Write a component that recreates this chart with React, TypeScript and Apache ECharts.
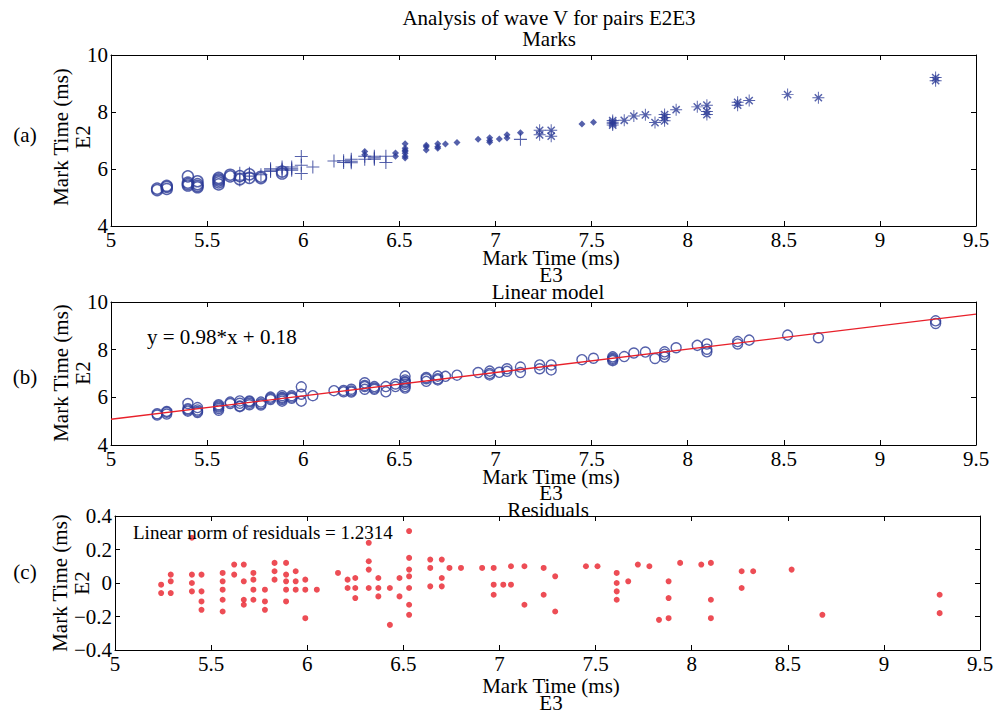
import React, { useEffect, useRef } from "react";
import * as echarts from "echarts";

const FONT = "Liberation Serif";
const FS = 21;

// Mark times of wave V, electrode E3 (x) — one entry per mark
const e3Values = [
  5.24, 5.24,
  5.29, 5.29, 5.29,
  5.40, 5.40, 5.40, 5.40,
  5.45, 5.45, 5.45, 5.45,
  5.56, 5.56, 5.56, 5.56, 5.56,
  5.62, 5.62,
  5.67, 5.67, 5.67, 5.67,
  5.72, 5.72, 5.72, 5.72,
  5.78, 5.78, 5.78,
  5.83, 5.83, 5.83,
  5.89, 5.89, 5.89, 5.89, 5.89,
  5.94, 5.94, 5.94,
  5.99, 5.99, 5.99,
  6.05,
  6.16,
  6.21, 6.21,
  6.25, 6.25, 6.25,
  6.32, 6.32, 6.32, 6.32,
  6.37, 6.37, 6.37,
  6.43, 6.43,
  6.48, 6.48,
  6.53, 6.53, 6.53, 6.53, 6.53, 6.53, 6.53,
  6.64, 6.64, 6.64,
  6.70, 6.70, 6.70,
  6.74,
  6.80,
  6.91,
  6.97, 6.97, 6.97,
  7.02,
  7.06, 7.06,
  7.13, 7.13,
  7.23, 7.23,
  7.29, 7.29,
  7.45,
  7.51,
  7.61, 7.61, 7.61, 7.61,
  7.67,
  7.72,
  7.78,
  7.83,
  7.88, 7.88, 7.88,
  7.94,
  8.05,
  8.10, 8.10, 8.10,
  8.26, 8.26,
  8.32,
  8.52,
  8.68,
  9.29, 9.29,
];

// Mark times of wave V, electrode E2 (y)
const e2Values = [
  5.31, 5.26,
  5.41, 5.37, 5.30,
  5.74, 5.52, 5.47, 5.42,
  5.57, 5.47, 5.41, 5.36,
  5.69, 5.64, 5.59, 5.53, 5.46,
  5.80, 5.74,
  5.85, 5.75, 5.64, 5.61,
  5.85, 5.81, 5.75, 5.69,
  5.80, 5.73, 5.68,
  6.01, 5.96, 5.91,
  6.07, 6.00, 5.96, 5.91, 5.84,
  6.07, 6.01, 5.96,
  6.44, 6.13, 5.84,
  6.07,
  6.28,
  6.29, 6.23,
  6.34, 6.27, 6.22,
  6.61, 6.50, 6.45, 6.34,
  6.45, 6.39, 6.34,
  6.45, 6.23,
  6.56, 6.45,
  6.89, 6.73, 6.66, 6.62, 6.55, 6.45, 6.39,
  6.83, 6.78, 6.67,
  6.89, 6.78, 6.73,
  6.88,
  6.93,
  7.04,
  7.10, 7.00, 6.94,
  7.05,
  7.20, 7.09,
  7.27, 7.04,
  7.36, 7.20,
  7.36, 7.15,
  7.58,
  7.64,
  7.70, 7.64, 7.59, 7.54,
  7.71,
  7.86,
  7.90,
  7.63,
  7.91, 7.81, 7.69,
  8.08,
  8.18,
  8.24, 8.02, 7.91,
  8.34, 8.24,
  8.40,
  8.61,
  8.50,
  9.21, 9.10,
];

// Residuals of the linear model
const residuals = [
  -0.01, -0.06,
  0.05, 0.01, -0.06,
  0.27, 0.05, 0.0, -0.05,
  0.05, -0.05, -0.11, -0.16,
  0.06, 0.01, -0.04, -0.10, -0.17,
  0.11, 0.05,
  0.11, 0.01, -0.10, -0.13,
  0.06, 0.02, -0.04, -0.10,
  -0.04, -0.11, -0.16,
  0.12, 0.07, 0.02,
  0.12, 0.05, 0.01, -0.04, -0.11,
  0.07, 0.01, -0.04,
  0.02, -0.04, -0.21,
  -0.04,
  0.06,
  0.02, -0.03,
  0.03, -0.03, -0.09,
  0.24, 0.13, 0.08, -0.03,
  0.03, -0.03, -0.08,
  -0.03, -0.25,
  0.03, -0.08,
  0.31, 0.15, 0.08, 0.04, -0.03, -0.13, -0.19,
  0.14, 0.09, -0.02,
  0.14, 0.03, -0.02,
  0.09,
  0.09,
  0.09,
  0.09, -0.01, -0.07,
  -0.01,
  0.10, -0.01,
  0.10, -0.13,
  0.09, -0.07,
  0.04, -0.17,
  0.10,
  0.10,
  0.06, 0.0, -0.05, -0.10,
  0.01,
  0.11,
  0.10,
  -0.22,
  0.01, -0.09, -0.21,
  0.12,
  0.11,
  0.12, -0.10, -0.21,
  0.07, -0.03,
  0.07,
  0.08,
  -0.19,
  -0.07, -0.18,
];

// Marker group used in the "Marks" panel: o circle, + plus, . point, * asterisk
const markerGroups = [
  "o", "o",
  "o", "o", "o",
  "o", "o", "o", "o",
  "o", "o", "o", "o",
  "o", "o", "o", "o", "o",
  "o", "o",
  "+", "o", "o", "+",
  "+", "o", "+", "o",
  "+", "o", "o",
  "+", "+", "+",
  "+", "+", "+", "o", "o",
  "+", "+", "+",
  "+", "+", "+",
  "+",
  "+",
  "+", "+",
  "+", "+", "+",
  ".", ".", "+", "+",
  "+", "+", "+",
  "+", "+",
  ".", ".",
  ".", ".", ".", ".", ".", ".", ".",
  ".", ".", ".",
  ".", ".", ".",
  ".",
  ".",
  ".",
  ".", ".", ".",
  ".",
  ".", ".",
  ".", "+",
  "*", "*",
  "*", "*",
  ".",
  ".",
  "*", "*", "*", "*",
  "*",
  "*",
  "*",
  "*",
  "*", "*", "*",
  "*",
  "*",
  "*", "*", "*",
  "*", "*",
  "*",
  "*",
  "*",
  "*", "*",
];

// Fitted line y = 0.98*x + 0.18, end points
const fitX = [5, 9.5];
const fitY = [5.08, 9.49];

const titleText = "Analysis of wave V for pairs E2E3";
const panelTitles = ["Marks", "Linear model", "Residuals"];
const panelLetters = ["(a)", "(b)", "(c)"];
const fitLabel = "y = 0.98*x + 0.18";
const normLabel = "Linear norm of residuals = 1.2314";
const xTitle = "Mark Time (ms)\nE3";
const yTitle = "Mark Time (ms)\nE2";

const BLUE = "#2B3A96";
const RED = "#E8202A";

const PLUS =
  "path://M-0.08,-1H0.08V-0.08H1V0.08H0.08V1H-0.08V0.08H-1V-0.08H-0.08Z";
const STAR =
  "path://M-0.08,-1H0.08V-0.08H1V0.08H0.08V1H-0.08V0.08H-1V-0.08H-0.08Z" +
  "M-0.515,-0.685L0.685,0.515L0.515,0.685L-0.685,-0.515Z" +
  "M0.515,-0.685L0.685,-0.515L-0.515,0.685L-0.685,0.515Z";

function fmtResid(v: number) {
  if (Math.abs(v) < 1e-9) return "0";
  return (v < 0 ? "\u2212" : "") + Math.abs(v).toFixed(1);
}

function makeAxes(
  gridIndex: number,
  yMin: number,
  yMax: number,
  yInterval: number,
  yFormatter?: (v: number) => string
) {
  const line = { show: true, onZero: false, lineStyle: { color: "#000", width: 1 } };
  const tick = { show: true, inside: true, length: 5, lineStyle: { color: "#000", width: 1 } };
  const label = { fontFamily: FONT, fontSize: FS, color: "#000", lineHeight: 16 };
  const xBase = {
    gridIndex,
    type: "value",
    min: 5,
    max: 9.5,
    interval: 0.5,
    axisLine: line,
    axisTick: tick,
    splitLine: { show: false },
  };
  const yBase = {
    gridIndex,
    type: "value",
    min: yMin,
    max: yMax,
    interval: yInterval,
    axisLine: line,
    axisTick: tick,
    splitLine: { show: false },
  };
  const xAxes = [
    { ...xBase, position: "bottom", axisLabel: { ...label, margin: 6 } },
    { ...xBase, position: "top", axisLabel: { show: false } },
  ];
  const yAxes = [
    { ...yBase, position: "left", axisLabel: { ...label, margin: 3, formatter: yFormatter } },
    { ...yBase, position: "right", axisLabel: { show: false } },
  ];
  return { xAxes, yAxes };
}

function text(
  x: number,
  y: number,
  t: string,
  align = "center",
  size = FS,
  rotation = 0,
  lineHeight = 16
) {
  return {
    type: "text",
    x,
    y,
    rotation,
    z: 100,
    style: {
      text: t,
      fill: "#000",
      font: `${size}px "${FONT}"`,
      lineHeight,
      align,
      verticalAlign: "middle",
      textAlign: align,
      textVerticalAlign: "middle",
    },
  };
}

export default function App() {
  const ref = useRef<HTMLDivElement>(null);

  useEffect(() => {
    if (!ref.current) return;
    const chart = echarts.init(ref.current, undefined, { renderer: "svg" });

    const allPairs = e3Values.map((x, i) => [x, e2Values[i]]);
    const residPairs = e3Values.map((x, i) => [x, residuals[i]]);
    const groupPairs = (g: string) =>
      e3Values.map((x, i) => (markerGroups[i] === g ? [x, e2Values[i]] : null)).filter(Boolean);

    const a = makeAxes(0, 4, 10, 2);
    const b = makeAxes(1, 4, 10, 2);
    const c = makeAxes(2, -0.4, 0.4, 0.2, fmtResid);

    const R = Math.PI / 2;

    const option: any = {
      animation: false,
      backgroundColor: "#fff",
      grid: [
        { left: 111, top: 55, width: 865, height: 171 },
        { left: 111, top: 302, width: 865, height: 143 },
        { left: 115, top: 516, width: 865, height: 134 },
      ],
      xAxis: [...a.xAxes, ...b.xAxes, ...c.xAxes],
      yAxis: [...a.yAxes, ...b.yAxes, ...c.yAxes],
      series: [
        {
          type: "scatter",
          xAxisIndex: 0,
          yAxisIndex: 0,
          data: groupPairs("o"),
          symbol: "circle",
          symbolSize: 11,
          itemStyle: { color: "rgba(0,0,0,0)", borderColor: BLUE, borderWidth: 1.5 },
        },
        {
          type: "scatter",
          xAxisIndex: 0,
          yAxisIndex: 0,
          data: groupPairs("+"),
          symbol: PLUS,
          symbolSize: 13,
          itemStyle: { color: BLUE },
        },
        {
          type: "scatter",
          xAxisIndex: 0,
          yAxisIndex: 0,
          data: groupPairs("."),
          symbol: "diamond",
          symbolSize: 7,
          itemStyle: { color: BLUE },
        },
        {
          type: "scatter",
          xAxisIndex: 0,
          yAxisIndex: 0,
          data: groupPairs("*"),
          symbol: STAR,
          symbolSize: 12,
          itemStyle: { color: BLUE },
        },
        {
          type: "scatter",
          xAxisIndex: 2,
          yAxisIndex: 2,
          data: allPairs,
          symbol: "circle",
          symbolSize: 10,
          itemStyle: { color: "rgba(0,0,0,0)", borderColor: BLUE, borderWidth: 1.4 },
        },
        {
          type: "line",
          xAxisIndex: 2,
          yAxisIndex: 2,
          data: fitX.map((x, i) => [x, fitY[i]]),
          showSymbol: false,
          symbol: "none",
          lineStyle: { color: RED, width: 1.3 },
          z: 5,
        },
        {
          type: "scatter",
          xAxisIndex: 4,
          yAxisIndex: 4,
          data: residPairs,
          symbol: "circle",
          symbolSize: 6,
          itemStyle: { color: RED },
        },
      ],
      graphic: [
        text(549, 18, titleText),
        text(549, 39, panelTitles[0]),
        text(548, 292, panelTitles[1]),
        text(548, 510, panelTitles[2]),
        // x-axis titles (two lines each)
        text(551, 266.5, xTitle, "center", FS, 0, 17),
        text(551, 485, xTitle, "center", FS, 0, 16),
        text(551, 694, xTitle, "center", FS, 0, 17),
        // y-axis titles (two lines each, rotated)
        text(72, 137, yTitle, "center", FS, R, 22),
        text(72, 373, yTitle, "center", FS, R, 22),
        text(71, 583, yTitle, "center", FS, R, 22),
        // panel letters
        text(25, 135, panelLetters[0]),
        text(25, 377, panelLetters[1]),
        text(25, 572, panelLetters[2]),
        // annotations
        text(147, 337, fitLabel, "left"),
        text(133, 532, normLabel, "left", 19),
      ],
    };

    chart.setOption(option);
    return () => chart.dispose();
  }, []);

  return (
    <div
      ref={ref}
      style={{ position: "fixed", left: 0, top: 0, width: 997, height: 715, background: "#fff" }}
    />
  );
}
